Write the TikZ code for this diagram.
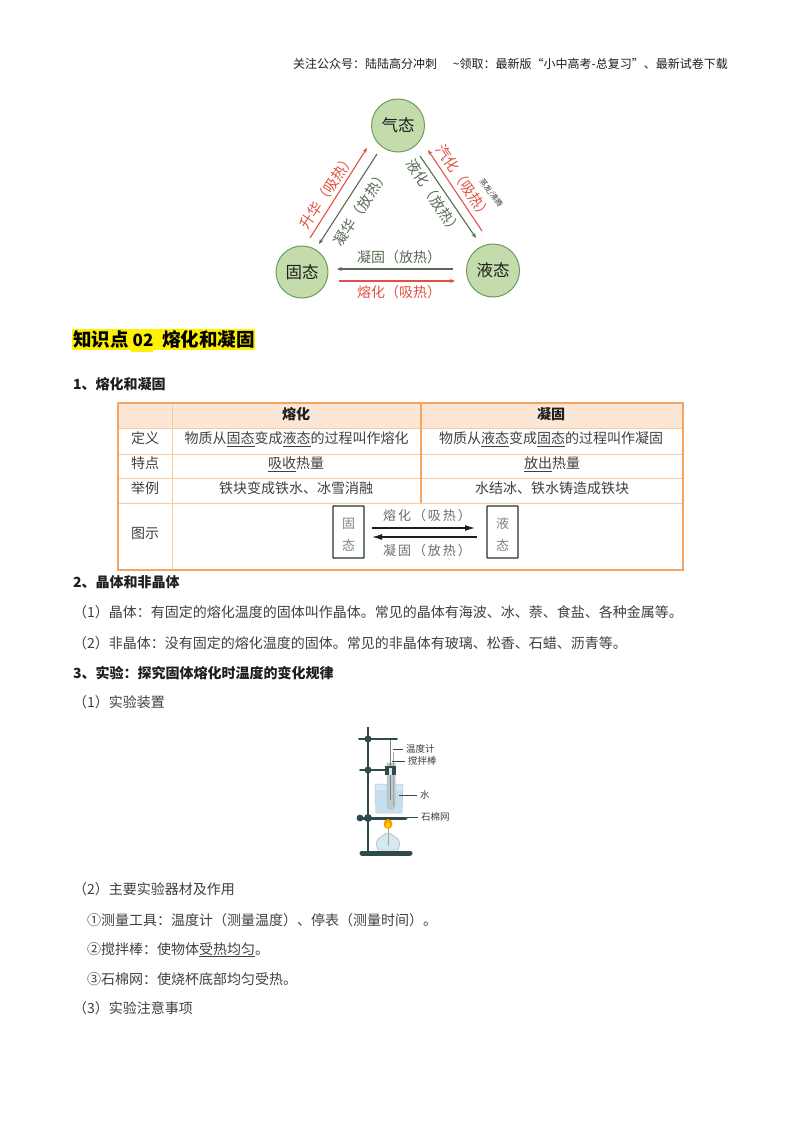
\documentclass[tikz,border=0pt]{standalone}
\usepackage{fontspec}
\setmainfont{Noto Sans CJK SC}
\usetikzlibrary{arrows.meta}
\definecolor{ink}{HTML}{1E1E1E}
\definecolor{soft}{HTML}{404040}
\definecolor{leafF}{HTML}{C4DCAC}
\definecolor{leafD}{HTML}{6F9B5E}
\definecolor{hotred}{HTML}{E2503F}
\definecolor{coldgr}{HTML}{586B54}
\definecolor{tabO}{HTML}{F4A562}
\definecolor{tabL}{HTML}{F9C9A0}
\definecolor{tabH}{HTML}{FCE6D6}
\definecolor{rig}{HTML}{2F4A4C}
\definecolor{glass}{HTML}{D6E8F2}
\definecolor{water}{HTML}{C6DFEE}
\tikzset{
  body/.style={font=\fontsize{14}{16}\selectfont,text=soft,inner sep=0pt,anchor=base west},
  head/.style={font=\fontsize{14}{16}\selectfont\bfseries,text=ink,inner sep=0pt,anchor=base west},
  cell/.style={font=\fontsize{14}{16}\selectfont,text=soft,inner sep=0pt,anchor=base},
  cellb/.style={font=\fontsize{14}{16}\selectfont\bfseries,text=ink,inner sep=0pt,anchor=base},
  phase/.style={circle,draw=leafD,fill=leafF,line width=1pt,minimum size=53pt,inner sep=0pt,font=\fontsize{16.5}{18}\selectfont,text=ink},
  hotlab/.style={font=\fontsize{14.5}{16}\selectfont,text=hotred,inner sep=0pt},
  coldlab/.style={font=\fontsize{14.5}{16}\selectfont,text=coldgr,inner sep=0pt},
  hotarr/.style={draw=hotred,line width=1.1pt,-{Stealth[length=5pt,width=4pt]}},
  coldarr/.style={draw=coldgr,line width=1.1pt,-{Stealth[length=5pt,width=4pt]}},
  statebox/.style={draw=rig!70!black,line width=1.1pt,rounded corners=.5pt,minimum width=31pt,minimum height=52pt,inner sep=0pt,align=center,font=\fontsize{13}{22}\selectfont,text=gray},
  arrowlab/.style={font=\fontsize{13}{15}\selectfont\addfontfeature{LetterSpace=15},text=gray!85!black,inner sep=0pt},
  tabthin/.style={draw=tabL,line width=1pt},
  tabthick/.style={draw=tabO,line width=2.4pt},
  riglab/.style={font=\fontsize{9.5}{11}\selectfont,text=soft,inner sep=0pt},
  leader/.style={draw=rig,line width=.6pt,shorten >=3pt},
  rigbar/.style={draw=rig,line cap=round}
}
\begin{document}
\begin{tikzpicture}[x=1pt,y=-1pt]
\useasboundingbox (0,0) rectangle (800,1132);
\fill[white] (0,0) rectangle (800,1132);
% page header
\node[font=\fontsize{12}{14}\selectfont,text=ink,inner sep=0pt,anchor=base west] (pagehead) at (293,69) {关注公众号：陆陆高分冲刺};
\node[font=\fontsize{12}{14}\selectfont,text=ink,inner sep=0pt,anchor=base east] (pagehead2) at (728,69) {\textasciitilde 领取：最新版“小中高考-总复习”、最新试卷下载};
% phase triangle
\node[phase] (gas) at (398,125.5) {气态};
\node[phase,minimum size=52pt] (solid) at (302,272) {固态};
\node[phase] (liquid) at (493,270.5) {液态};
\coordinate (a1s) at (310,238); \coordinate (a1e) at (367,148);
\coordinate (a2s) at (377,154); \coordinate (a2e) at (319,244);
\coordinate (a3s) at (420,156); \coordinate (a3e) at (476,238);
\coordinate (a4s) at (482,231); \coordinate (a4e) at (428,150);
\coordinate (a5s) at (453,269); \coordinate (a5e) at (337,269);
\coordinate (a6s) at (339,281); \coordinate (a6e) at (455,281);
\draw[hotarr] (a1s) -- (a1e);
\draw[coldarr] (a2s) -- (a2e);
\draw[coldarr] (a3s) -- (a3e);
\draw[hotarr] (a4s) -- (a4e);
\draw[coldarr] (a5s) -- (a5e);
\draw[hotarr] (a6s) -- (a6e);
\node[hotlab,rotate=56] (l1) at (327,191) {升华（吸热）};
\node[coldlab,rotate=57] (l2) at (361,208) {凝华（放热）};
\node[coldlab,rotate=-57] (l3) at (434,197) {液化（放热）};
\node[hotlab,rotate=-56] (l4) at (464,182) {汽化（吸热）};
\node[font=\fontsize{7.5}{8}\selectfont,text=soft,inner sep=0pt,rotate=-54] (l4b) at (491,193) {蒸发/沸腾};
\node[font=\fontsize{14}{16}\selectfont,text=coldgr,inner sep=0pt] (l5) at (399,257) {凝固（放热）};
\begin{scope}
\clip (340,284) rectangle (460,298);
\node[font=\fontsize{14}{16}\selectfont,text=hotred,inner sep=0pt] (l6) at (399,292) {熔化（吸热）};
\end{scope}
% section title
\fill[yellow] (72,329) rectangle (255,350);
\fill[yellow] (131,350) rectangle (153,352);
\node[font=\fontsize{18.5}{20}\selectfont\bfseries,text=black,inner sep=0pt,anchor=base west] (sect) at (73,346) {知识点};
\node[font=\fontsize{17}{20}\selectfont\bfseries,text=black,inner sep=0pt,anchor=base west] (sect2) at (132.5,346) {02};
\node[font=\fontsize{18.5}{20}\selectfont\bfseries,text=black,inner sep=0pt,anchor=base west] (sect3) at (162,346) {熔化和凝固};
\node[head] (h1) at (73,389) {1、熔化和凝固};
% table
\fill[tabH] (118,403) rectangle (683,428);
\draw[tabthin] (118,428) -- (683,428);
\draw[tabthin] (118,454) -- (683,454);
\draw[tabthin] (118,478) -- (683,478);
\draw[tabthin] (118,503) -- (683,503);
\draw[tabthin] (172,403) -- (172,570);
\draw[draw=tabO,line width=1.6pt] (421,403) -- (421,503);
\draw[tabthick] (118,403) rectangle (683,570);
\node[cellb] (t01) at (296,419.5) {熔化};
\node[cellb] (t02) at (551,419.5) {凝固};
\node[cell] (t10) at (145,443.5) {定义};
\node[cell] (t11) at (296.5,443.5) {物质从\underline{固态}变成\underline{液态}的过程叫作熔化};
\node[cell] (t12) at (551,443.5) {物质从\underline{液态}变成\underline{固态}的过程叫作凝固};
\node[cell] (t20) at (145,468.5) {特点};
\node[cell] (t21) at (296,468.5) {\underline{吸收}热量};
\node[cell] (t22) at (552,468.5) {\underline{放出}热量};
\node[cell] (t30) at (145,493.5) {举例};
\node[cell] (t31) at (296,493.5) {铁块变成铁水、冰雪消融};
\node[cell] (t32) at (552,493.5) {水结冰、铁水铸造成铁块};
\node[cell] (t40) at (145,538.5) {图示};
\node[statebox] (bs) at (348.5,532) {\rule{0pt}{15pt}固\\态};
\node[statebox] (bl) at (502.5,532) {\rule{0pt}{15pt}液\\态};
\coordinate (r1s) at (372,528); \coordinate (r1e) at (475,528);
\coordinate (r2s) at (477,537); \coordinate (r2e) at (372,537);
\draw[draw=ink,line width=1.2pt,-{Latex[length=10pt,width=6pt]}] (r1s) -- (r1e);
\draw[draw=ink,line width=1.2pt,-{Latex[length=10pt,width=6pt]}] (r2s) -- (r2e);
\node[arrowlab] (rl1) at (427,516) {熔化（吸热）};
\node[arrowlab] (rl2) at (427,551) {凝固（放热）};
% body text
\node[head] (h2) at (73,587) {2、晶体和非晶体};
\node[body] (p1) at (73,617) {（1）晶体：有固定的熔化温度的固体叫作晶体。常见的晶体有海波、冰、萘、食盐、各种金属等。};
\node[body] (p2) at (73,648) {（2）非晶体：没有固定的熔化温度的固体。常见的非晶体有玻璃、松香、石蜡、沥青等。};
\node[head] (h3) at (73,678) {3、实验：探究固体熔化时温度的变化规律};
\node[body] (p3) at (73,707) {（1）实验装置};
% apparatus
\fill[glass,draw=gray!50,line width=.5pt] (375,784) -- (403,784) -- (402,813) -- (376,813) -- cycle;
\fill[water] (376,790) rectangle (402,813);
\fill[glass!70!gray,draw=gray!60,line width=.5pt] (387,763) -- (395,763) -- (395,805) arc (0:180:4) -- cycle;
\draw[draw=gray,line width=1pt] (390,740) -- (390,800);
\draw[draw=gray!70,line width=.8pt] (393,752) -- (393,806);
\draw[rigbar,line width=5pt] (362,853) -- (410,853);
\draw[draw=rig,line width=2.6pt] (368,727) -- (368,853);
\draw[rigbar,line width=1.8pt] (359,739) -- (397,739);
\fill[rig] (368,739) circle (3.5);
\draw[rigbar,line width=1.8pt] (360,770) -- (388,770);
\fill[rig] (368,770) circle (3.5);
\fill[rig] (385,766) rectangle (396,775);
\fill[glass] (389,768) rectangle (392,775);
\draw[rigbar,line width=3pt] (363,818) -- (406,818);
\fill[rig] (368,818) circle (4);
\fill[rig] (360,818) circle (3.4);
\fill[orange!80!yellow] (388,824) ellipse (4.5 and 5);
\fill[yellow!70!orange] (388,825) ellipse (2 and 3);
\fill[glass,draw=gray!60,line width=.5pt] (378,850) .. controls (372,838) and (384,836) .. (386,833) -- (390,833) .. controls (392,836) and (404,838) .. (398,850) -- cycle;
\draw[draw=gray!70,line width=.8pt] (388,829) -- (388,846);
\node[riglab,anchor=west] (r1) at (406,749) {温度计};
\node[riglab,anchor=west] (r2) at (408,761) {搅拌棒};
\node[riglab,anchor=west] (r3) at (420,795) {水};
\node[riglab,anchor=west] (r4) at (421,817) {石棉网};
\coordinate (q1) at (393,749); \coordinate (q2) at (392,761); \coordinate (q3) at (399,795); \coordinate (q4) at (407,817);
\draw[leader] (q1) -- (r1.west);
\draw[leader] (q2) -- (r2.west);
\draw[leader] (q3) -- (r3.west);
\draw[leader] (q4) -- (r4.west);
% more body text
\node[body] (p4) at (73,894) {（2）主要实验器材及作用};
\node[body] (p5) at (87,925) {①测量工具：温度计（测量温度）、停表（测量时间）。};
\node[body] (p6) at (87,954) {②搅拌棒：使物体\underline{受热均匀}。};
\node[body] (p7) at (87,984) {③石棉网：使烧杯底部均匀受热。};
\node[body] (p8) at (73,1013) {（3）实验注意事项};
\end{tikzpicture}
\end{document}
